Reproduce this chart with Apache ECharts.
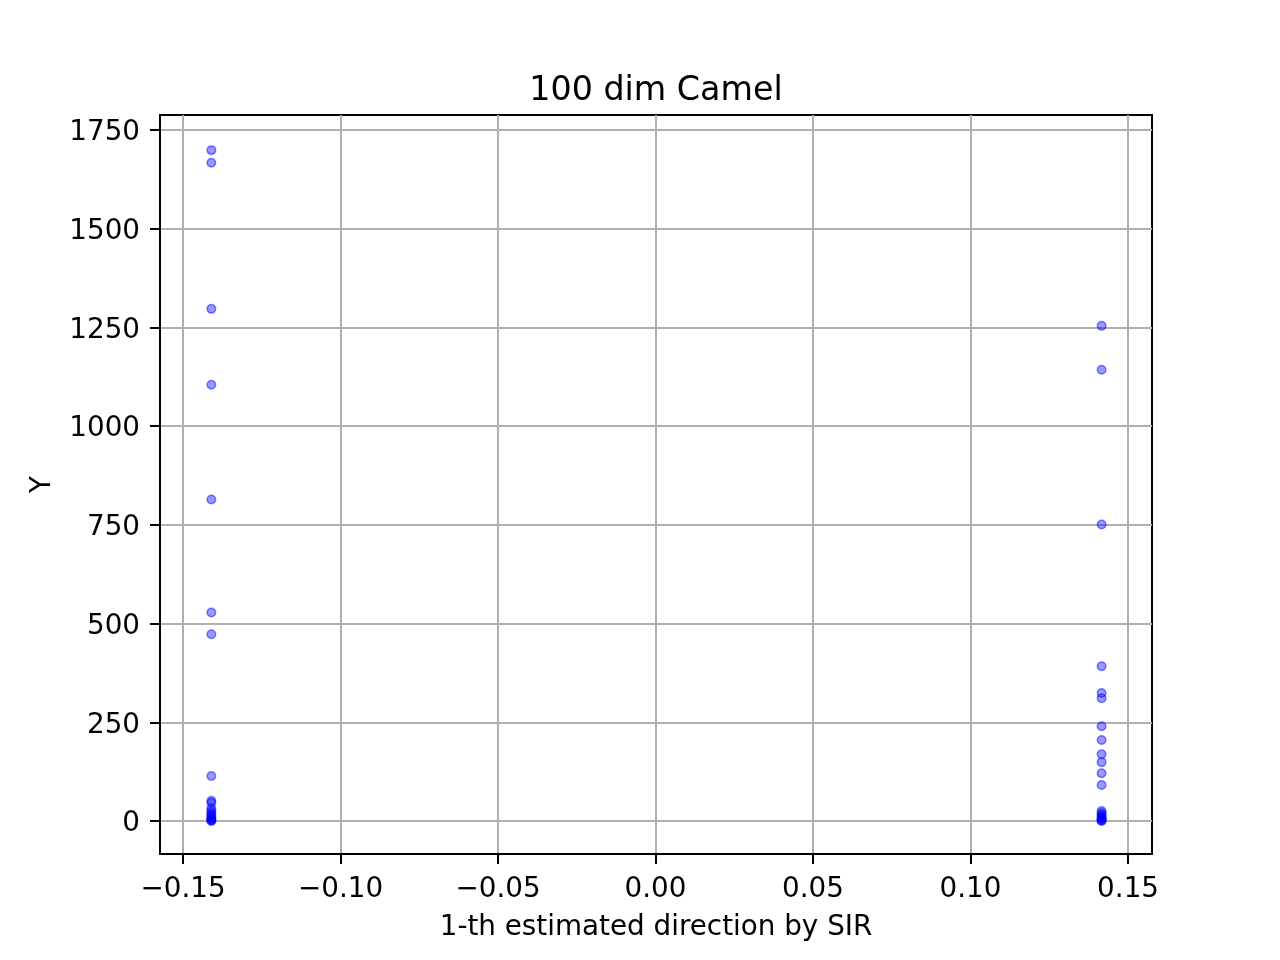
<!DOCTYPE html>
<html><head><meta charset="utf-8">
<script src="https://cdn.jsdelivr.net/npm/echarts@6/dist/echarts.min.js"></script>
<style>html,body{margin:0;padding:0;background:#fff}#c{width:1280px;height:960px}</style>
</head><body><div id="c"></div>
<script>
const leftX = -0.1410;
const rightX = 0.1416;
const leftY = [1699, 1667, 1297, 1105, 814, 528, 473, 114, 51, 46, 32, 26, 21, 16, 12, 8, 5, 3, 1, 0];
const rightY = [1254, 1143, 751, 392, 324, 311, 240, 205, 169, 149, 121, 91, 25, 20, 16, 12, 8, 5, 3, 1, 0];
const xTicks = [-0.15, -0.10, -0.05, 0.00, 0.05, 0.10, 0.15];
const yTicks = [0, 250, 500, 750, 1000, 1250, 1500, 1750];
const title = '100 dim Camel';
const xName = '1-th estimated direction by SIR';
const yName = 'Y';

const pts = leftY.map(y => [leftX, y]).concat(rightY.map(y => [rightX, y]));
const font = 'DejaVu Sans';
const chart = echarts.init(document.getElementById('c'), null, {renderer: 'canvas'});
const gridLine = {show: true, lineStyle: {color: '#b0b0b0', width: 2}};
chart.setOption({
  animation: false,
  title: {text: title, left: 656, top: 75, padding: 0, textAlign: 'center',
    textStyle: {fontFamily: font, fontSize: 33.3, fontWeight: 'normal', color: '#000'}},
  grid: {left: 160, top: 115, width: 992, height: 739, show: true, borderColor: '#000', borderWidth: 2, backgroundColor: 'transparent'},
  xAxis: {
    type: 'value', min: -0.1573, max: 0.1576,
    name: xName, nameLocation: 'middle', nameGap: 60,
    nameTextStyle: {fontFamily: font, fontSize: 27.8, color: '#000'},
    axisLine: {show: true, onZero: false, lineStyle: {color: '#000', width: 2}},
    axisTick: {show: true, customValues: xTicks, length: 10, lineStyle: {color: '#000', width: 2}},
    axisLabel: {customValues: xTicks, fontFamily: font, fontSize: 27.8, color: '#000', margin: 22,
      formatter: v => (v < 0 ? '\u2212' : '') + Math.abs(v).toFixed(2)},
    splitLine: gridLine
  },
  yAxis: {
    type: 'value', min: -83.6, max: 1788,
    name: yName, nameLocation: 'middle', nameGap: 103, nameRotate: 90,
    nameTextStyle: {fontFamily: font, fontSize: 27.8, color: '#000'},
    axisLine: {show: true, onZero: false, lineStyle: {color: '#000', width: 2}},
    axisTick: {show: true, customValues: yTicks, length: 10, lineStyle: {color: '#000', width: 2}},
    axisLabel: {customValues: yTicks, fontFamily: font, fontSize: 27.8, color: '#000', margin: 20,
      formatter: v => '{a|' + String(v) + '}',
      rich: {a: {fontFamily: font, fontSize: 27.8, color: '#000', padding: [6, 0, 0, 0]}}},
    splitLine: gridLine
  },
  series: [{
    type: 'scatter', data: pts, symbol: 'circle', symbolSize: 8.5,
    itemStyle: {color: 'rgba(0,0,255,0.5)', borderColor: 'rgba(0,0,255,0.6)', borderWidth: 1.5}
  }]
});
</script></body></html>
